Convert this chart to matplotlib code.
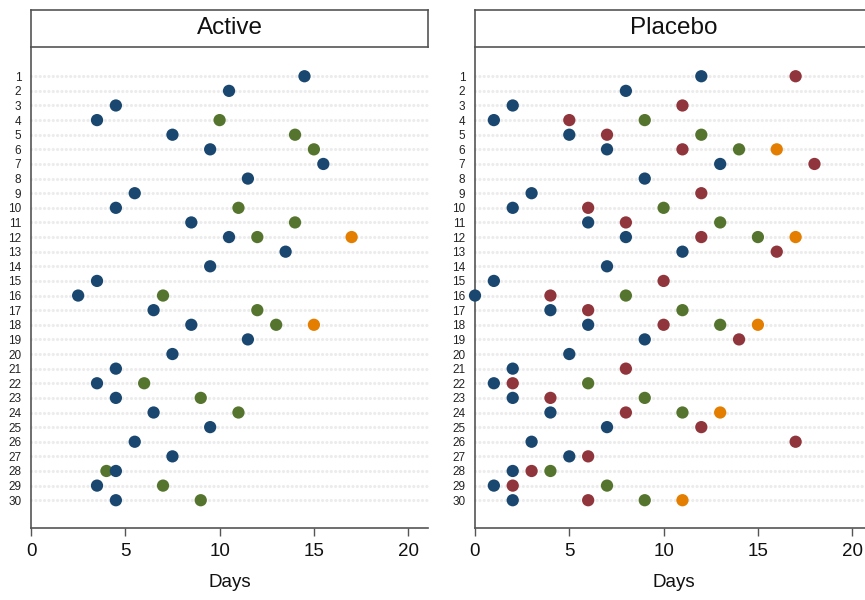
import numpy as np
import matplotlib
matplotlib.use("Agg")
import matplotlib.pyplot as plt

plt.rcParams['font.family'] = ['Liberation Sans', 'DejaVu Sans']

rows = list(range(1, 31))
xticks = [0, 5, 10, 15, 20]

# Active arm: one value per row for the first series, sparse for the others
active_navy = [14.5, 10.5, 4.5, 3.5, 7.5, 9.5, 15.5, 11.5, 5.5, 4.5,
               8.5, 10.5, 13.5, 9.5, 3.5, 2.5, 6.5, 8.5, 11.5, 7.5,
               4.5, 3.5, 4.5, 6.5, 9.5, 5.5, 7.5, 4.5, 3.5, 4.5]
active_green_rows = [4, 5, 6, 10, 11, 12, 16, 17, 18, 22, 23, 24, 28, 29, 30]
active_green = [10, 14, 15, 11, 14, 12, 7, 12, 13, 6, 9, 11, 4, 7, 9]
active_orange_rows = [12, 18]
active_orange = [17, 15]

# Placebo arm
placebo_navy = [12, 8, 2, 1, 5, 7, 13, 9, 3, 2,
                6, 8, 11, 7, 1, 0, 4, 6, 9, 5,
                2, 1, 2, 4, 7, 3, 5, 2, 1, 2]
placebo_red_rows = [1, 3, 4, 5, 6, 7, 9, 10, 11, 12, 13, 15, 16, 17, 18,
                    19, 21, 22, 23, 24, 25, 26, 27, 28, 29, 30]
placebo_red = [17, 11, 5, 7, 11, 18, 12, 6, 8, 12, 16, 10, 4, 6, 10,
               14, 8, 2, 4, 8, 12, 17, 6, 3, 2, 6]
placebo_green_rows = [4, 5, 6, 10, 11, 12, 16, 17, 18, 22, 23, 24, 28, 29, 30]
placebo_green = [9, 12, 14, 10, 13, 15, 8, 11, 13, 6, 9, 11, 4, 7, 9]
placebo_orange_rows = [6, 12, 18, 24, 30]
placebo_orange = [16, 17, 15, 13, 11]

navy = '#1a476f'
maroon = '#90353b'
green = '#55752f'
orange = '#e37e00'

panels = [
    ("Active", [(rows, active_navy, navy),
                (active_green_rows, active_green, green),
                (active_orange_rows, active_orange, orange)]),
    ("Placebo", [(rows, placebo_navy, navy),
                 (placebo_red_rows, placebo_red, maroon),
                 (placebo_green_rows, placebo_green, green),
                 (placebo_orange_rows, placebo_orange, orange)]),
]

W, H = 865, 600
fig = plt.figure(figsize=(W / 100, H / 100), dpi=100)
fig.patch.set_facecolor('white')

ax_left = [31, 475]
ax_w = 397
ax_top, ax_bot = 47, 528
title_top = 10

for (name, series), left in zip(panels, ax_left):
    ax = fig.add_axes([left / W, (H - ax_bot) / H, ax_w / W, (ax_bot - ax_top) / H])
    ax.set_xlim(0, 21.05)
    ax.set_ylim(31.9, -1)

    # dotted guide lines for each row
    for r in rows:
        ax.plot([0, 21.05], [r, r], color='#ececec', lw=2.3,
                linestyle=(0, (0.01, 1.35)), dash_capstyle='round',
                zorder=1, clip_on=False)

    for i, (yy, xx, col) in enumerate(series):
        ax.scatter(xx, yy, s=78, color=col, edgecolors='none',
                   zorder=10 - i, clip_on=False)

    ax.set_yticks(rows)
    ax.set_yticklabels([str(r) for r in rows], fontsize=8.5, color='#222222')
    ax.tick_params(axis='y', length=0, pad=7)
    ax.set_xticks(xticks)
    ax.set_xticklabels([str(t) for t in xticks], fontsize=13.5, color='#111111')
    ax.tick_params(axis='x', length=6, width=1, color='#555555', pad=5)
    ax.set_xlabel('Days', fontsize=13.5, labelpad=10, color='#111111')

    for s in ['top', 'right']:
        ax.spines[s].set_visible(False)
    for s in ['left', 'bottom']:
        ax.spines[s].set_color('#555555')
        ax.spines[s].set_linewidth(1.2)

    # title box above the panel
    tax = fig.add_axes([left / W, (H - ax_top) / H, ax_w / W, (ax_top - title_top) / H])
    tax.set_xticks([])
    tax.set_yticks([])
    for s in tax.spines.values():
        s.set_color('#555555')
        s.set_linewidth(1.2)
    tax.text(0.5, 0.5, name, ha='center', va='center', fontsize=17.5,
             color='#111111', transform=tax.transAxes)

fig.savefig('out.png', dpi=100, facecolor='white')
